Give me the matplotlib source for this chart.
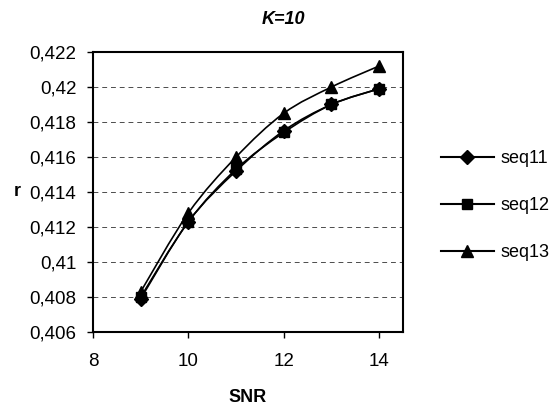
import matplotlib.pyplot as plt
from matplotlib.path import Path
from matplotlib.patches import PathPatch
from matplotlib.lines import Line2D
from matplotlib.ticker import FuncFormatter

plt.rcParams['font.family'] = ['Liberation Sans', 'DejaVu Sans']

snr = [9, 10, 11, 12, 13, 14]
seq11 = [0.4079, 0.4123, 0.4152, 0.4175, 0.4190, 0.4199]
seq12 = [0.4080, 0.4123, 0.4153, 0.4174, 0.4190, 0.4199]
seq13 = [0.4083, 0.4128, 0.4160, 0.4185, 0.4200, 0.4212]

series = [('seq11', seq11, 'D', 7), ('seq12', seq12, 's', 7), ('seq13', seq13, '^', 9)]


def smooth_path(xs, ys):
    # excel-like smoothed line: cubic bezier with catmull-rom tangents
    verts = [(xs[0], ys[0])]
    codes = [Path.MOVETO]
    n = len(xs)
    for i in range(n - 1):
        x0, y0 = xs[max(i - 1, 0)], ys[max(i - 1, 0)]
        x1, y1 = xs[i], ys[i]
        x2, y2 = xs[i + 1], ys[i + 1]
        x3, y3 = xs[min(i + 2, n - 1)], ys[min(i + 2, n - 1)]
        c1 = (x1 + (x2 - x0) / 6, y1 + (y2 - y0) / 6)
        c2 = (x2 - (x3 - x1) / 6, y2 - (y3 - y1) / 6)
        verts += [c1, c2, (x2, y2)]
        codes += [Path.CURVE4] * 3
    return Path(verts, codes)


fig = plt.figure(figsize=(5.59, 4.09), dpi=100)
ax = fig.add_axes([93 / 559, 77 / 409, 310 / 559, 280 / 409])

handles = []
for name, vals, mk, ms in series:
    ax.add_patch(PathPatch(smooth_path(snr, vals), fill=False, edgecolor='black', lw=1.2, zorder=3))
    ax.plot(snr, vals, linestyle='none', marker=mk, color='black', markersize=ms, zorder=4)
    handles.append(Line2D([], [], color='black', lw=1.5, marker=mk, markersize=ms, label=name))

ax.set_xlim(8, 14.5)
ax.set_ylim(0.406, 0.422)
ax.set_xticks([8, 10, 12, 14])
ax.set_yticks([0.406, 0.408, 0.41, 0.412, 0.414, 0.416, 0.418, 0.42, 0.422])
ax.yaxis.set_major_formatter(FuncFormatter(lambda v, p: ('%g' % round(v, 4)).replace('.', ',')))
ax.tick_params(direction='out', length=4, width=1, colors='black')
ax.tick_params(axis='x', pad=11, labelsize=13.5)
ax.tick_params(axis='y', pad=8, labelsize=13.5)
ax.grid(axis='y', color='black', linestyle=(0, (5, 4)), lw=0.7, alpha=0.7)
for s in ax.spines.values():
    s.set_linewidth(1.5)

ax.set_xlabel('SNR', fontsize=13, fontweight='bold', labelpad=14)
ax.set_ylabel('r', fontsize=13, fontweight='bold', rotation=0, va='center')
ax.yaxis.set_label_coords(-76 / 310, 0.5)
fig.text(283 / 559, 1 - 19 / 409, 'K=10', fontsize=13, fontweight='bold', style='italic',
         ha='center', va='center')

fig.legend(handles=handles, loc='upper left', bbox_to_anchor=(425 / 559, 1 - 134 / 409),
           frameon=False, fontsize=13, handlelength=2.9, labelspacing=1.65, handletextpad=0.4)

fig.savefig('out.png', dpi=100)
